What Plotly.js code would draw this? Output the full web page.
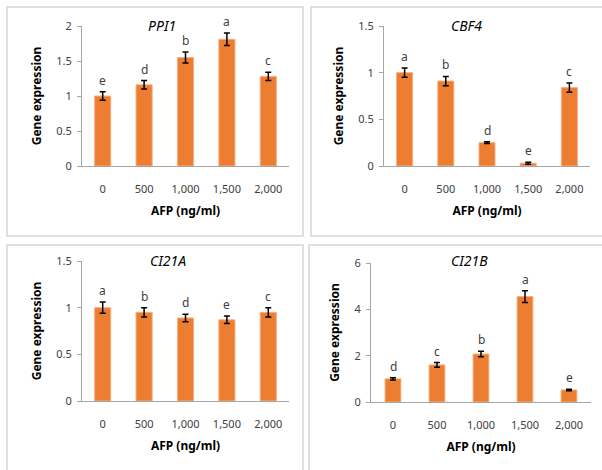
<!DOCTYPE html>
<html>
<head>
<meta charset="utf-8">
<script src="https://cdn.plot.ly/plotly-3.0.1.min.js"></script>
<style>html,body{margin:0;padding:0;background:#fff;}#chart{width:602px;height:470px;}</style>
</head>
<body>
<div id="chart"></div>
<script>
var categories = ['0', '500', '1,000', '1,500', '2,000'];

var ppi1Values = [1.00, 1.16, 1.55, 1.81, 1.28];
var ppi1Errors = [0.06, 0.06, 0.08, 0.09, 0.06];
var ppi1Letters = ['e', 'd', 'b', 'a', 'c'];

var cbf4Values = [1.00, 0.91, 0.25, 0.03, 0.84];
var cbf4Errors = [0.05, 0.05, 0.01, 0.01, 0.05];
var cbf4Letters = ['a', 'b', 'd', 'e', 'c'];

var ci21aValues = [1.00, 0.95, 0.89, 0.87, 0.95];
var ci21aErrors = [0.06, 0.05, 0.04, 0.04, 0.05];
var ci21aLetters = ['a', 'b', 'd', 'e', 'c'];

var ci21bValues = [1.00, 1.60, 2.07, 4.55, 0.52];
var ci21bErrors = [0.05, 0.10, 0.12, 0.25, 0.03];
var ci21bLetters = ['d', 'c', 'b', 'a', 'e'];

var geneNames = ['PPI1', 'CBF4', 'CI21A', 'CI21B'];
var xTitle = 'AFP (ng/ml)';
var yTitle = 'Gene expression';

var W = 602, H = 470;
var FONT = 'Noto Sans, Open Sans, sans-serif';
var ORANGE = '#ED7D31';

function px(x) { return x / W; }
function py(y) { return 1 - y / H; }

var panels = [
  {vals: ppi1Values, errs: ppi1Errors, letters: ppi1Letters, x0: 82, x1: 289, yb: 166, yt: 26, range: [0, 2], dtick: 0.5, bw: 0.39, tx: 162, ty: 25, name: geneNames[0]},
  {vals: cbf4Values, errs: cbf4Errors, letters: cbf4Letters, x0: 384, x1: 590, yb: 166, yt: 26, range: [0, 1.5], dtick: 0.5, bw: 0.39, tx: 466, ty: 25, name: geneNames[1]},
  {vals: ci21aValues, errs: ci21aErrors, letters: ci21aLetters, x0: 82, x1: 289, yb: 401, yt: 261, range: [0, 1.5], dtick: 0.5, bw: 0.39, tx: 168, ty: 260, name: geneNames[2]},
  {vals: ci21bValues, errs: ci21bErrors, letters: ci21bLetters, x0: 371, x1: 591, yb: 402, yt: 263, range: [0, 6], dtick: 2, bw: 0.36, tx: 469, ty: 260, name: geneNames[3]}
];

var data = [];
var layout = {
  width: W, height: H,
  margin: {l: 0, r: 0, t: 0, b: 0},
  paper_bgcolor: '#ffffff', plot_bgcolor: '#ffffff',
  showlegend: false,
  font: {family: FONT, color: '#404040', size: 11},
  annotations: [],
  shapes: []
};

panels.forEach(function (p, i) {
  var n = i + 1;
  var xa = 'xaxis' + (n === 1 ? '' : n), ya = 'yaxis' + (n === 1 ? '' : n);
  var xr = 'x' + (n === 1 ? '' : n), yr = 'y' + (n === 1 ? '' : n);
  data.push({
    type: 'bar', x: categories.slice(), y: p.vals, xaxis: xr, yaxis: yr,
    width: p.bw,
    marker: {color: ORANGE, line: {color: '#F4B183', width: 1}},
    error_y: {type: 'data', array: p.errs, visible: true, color: '#000000', thickness: 1.5, width: 3},
    hoverinfo: 'skip'
  });
  layout[xa] = {
    domain: [px(p.x0), px(p.x1)], anchor: yr, type: 'category',
    categoryorder: 'array', categoryarray: categories,
    range: [-0.5, categories.length - 0.5], autorange: false,
    showline: true, linecolor: '#a6a6a6', linewidth: 1, ticks: '',
    showgrid: false, zeroline: false, fixedrange: true,
    tickfont: {family: FONT, size: 11, color: '#404040'},
    ticklabelstandoff: 13,
    title: {text: xTitle, font: {family: FONT, size: 12, color: '#000000', weight: 'bold'}, standoff: 11}
  };
  layout[ya] = {
    domain: [py(p.yb), py(p.yt)], anchor: xr, range: p.range, autorange: false, dtick: p.dtick,
    showline: true, linecolor: '#a6a6a6', linewidth: 1, ticks: 'outside', ticklen: 4, tickcolor: '#a6a6a6',
    showgrid: false, zeroline: false, fixedrange: true,
    tickfont: {family: FONT, size: 11, color: '#404040'},
    ticklabelstandoff: 3,
    title: {text: yTitle, font: {family: FONT, size: 12, color: '#000000', weight: 'bold'}, standoff: 12}
  };
  p.letters.forEach(function (l, k) {
    layout.annotations.push({
      xref: xr, yref: yr, x: k, y: p.vals[k] + p.errs[k],
      text: l, showarrow: false, yanchor: 'bottom', yshift: 1,
      font: {family: FONT, size: 12, color: '#404040'}
    });
  });
  layout.annotations.push({
    xref: 'paper', yref: 'paper', x: px(p.tx), y: py(p.ty),
    text: '<i>' + p.name + '</i>', showarrow: false, xanchor: 'center', yanchor: 'middle',
    font: {family: FONT, size: 14, color: '#000000'}
  });
});

var borders = [[7, 7, 303, 236], [311, 7, 606, 236], [7, 245, 303, 476], [309, 245, 606, 476]];
borders.forEach(function (b) {
  layout.shapes.push({
    type: 'rect', xref: 'paper', yref: 'paper',
    x0: px(b[0]), x1: px(b[2]), y0: py(b[3]), y1: py(b[1]),
    line: {color: '#d6d6d6', width: 1.5}, fillcolor: 'rgba(0,0,0,0)', layer: 'below'
  });
});

Plotly.newPlot('chart', data, layout, {staticPlot: true, displayModeBar: false});
</script>
</body>
</html>
